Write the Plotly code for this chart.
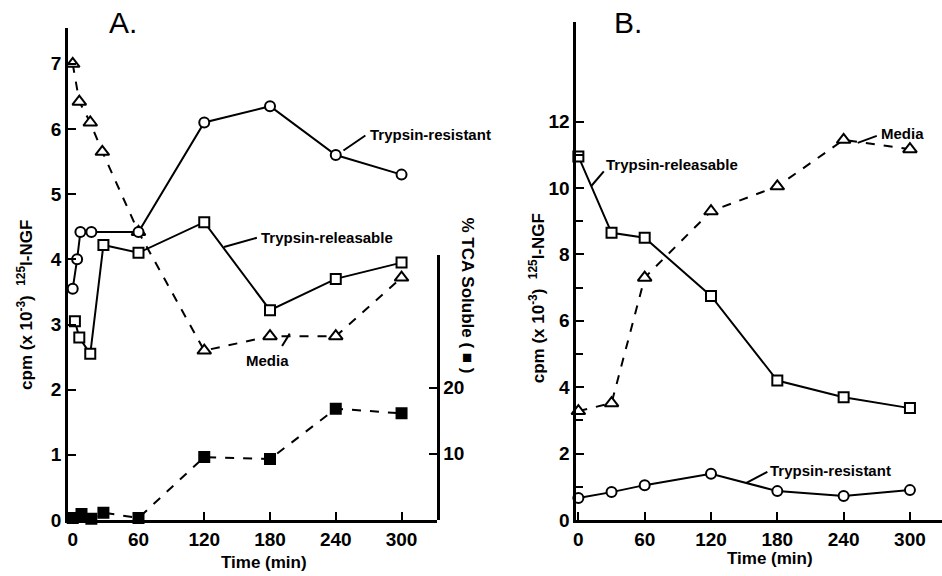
import plotly.graph_objects as go

# ---------------- Panel A data ----------------
a_res_t = [0, 4, 7, 17, 60, 120, 180, 240, 300]
a_res_y = [3.55, 4.0, 4.42, 4.42, 4.42, 6.1, 6.35, 5.6, 5.3]

a_rel_t = [2, 6, 16, 28, 60, 120, 180, 240, 300]
a_rel_y = [3.05, 2.8, 2.55, 4.22, 4.1, 4.57, 3.22, 3.7, 3.95]

a_med_t = [0, 6, 16, 27, 60, 120, 180, 240, 300]
a_med_y = [7.0, 6.42, 6.1, 5.65, 4.42, 2.6, 2.82, 2.82, 3.72]

a_tca_t = [0, 8, 17, 28, 60, 120, 180, 240, 300]
a_tca_y = [0.3, 0.9, 0.2, 1.1, 0.3, 9.5, 9.2, 16.8, 16.1]

# ---------------- Panel B data ----------------
b_t = [0, 30, 60, 120, 180, 240, 300]
b_rel_y = [10.95, 8.65, 8.5, 6.75, 4.2, 3.7, 3.37]
b_res_y = [0.66, 0.84, 1.05, 1.39, 0.87, 0.72, 0.9]
b_med_y = [3.28, 3.52, 7.3, 9.3, 10.05, 11.45, 11.17]

x_ticks = [0, 60, 120, 180, 240, 300]
a_y_ticks = [0, 1, 2, 3, 4, 5, 6, 7]
a_tca_ticks = [10, 20]
b_y_ticks = [0, 2, 4, 6, 8, 10, 12]
b_y_minor = [1, 3, 5, 7, 9, 11]

BLACK = "black"
FONT = "Liberation Sans"


def trace(x, y, xa, ya, symbol, fill, size, dash):
    return go.Scatter(
        x=x, y=y, xaxis=xa, yaxis=ya, mode="lines+markers",
        line=dict(color=BLACK, width=2, dash=dash),
        marker=dict(symbol=symbol, size=size, color=fill,
                    line=dict(color=BLACK, width=2)),
        showlegend=False, hoverinfo="skip", cliponaxis=False,
    )


fig = go.Figure()
# panel A
fig.add_trace(trace(a_tca_t, a_tca_y, "x", "y3", "square", BLACK, 10, "dash"))
fig.add_trace(trace(a_med_t, a_med_y, "x", "y", "triangle-up", "white", 12, "dash"))
fig.add_trace(trace(a_res_t, a_res_y, "x", "y", "circle", "white", 10, "solid"))
fig.add_trace(trace(a_rel_t, a_rel_y, "x", "y", "square", "white", 10, "solid"))
# panel B
fig.add_trace(trace(b_t, b_med_y, "x2", "y2", "triangle-up", "white", 12, "dash"))
fig.add_trace(trace(b_t, b_rel_y, "x2", "y2", "square", "white", 10, "solid"))
fig.add_trace(trace(b_t, b_res_y, "x2", "y2", "circle", "white", 10, "solid"))

W, H = 942, 576
tickfont = dict(family=FONT, size=19, color=BLACK, weight="bold")
axis_common = dict(showgrid=False, zeroline=False, showline=True, linecolor=BLACK,
                   linewidth=2.5, ticks="inside", ticklen=8, tickwidth=2,
                   tickcolor=BLACK, tickfont=tickfont)

fig.update_layout(
    width=W, height=H, margin=dict(l=0, r=0, t=22, b=56),
    paper_bgcolor="white", plot_bgcolor="rgba(0,0,0,0)",
    xaxis=dict(domain=[65 / W, 435 / W], range=[-4.5, 332], anchor="y",
               tickvals=x_ticks, **axis_common),
    yaxis=dict(domain=[0, 492 / 498], range=[0, 7.55], anchor="x",
               tickvals=a_y_ticks, **axis_common),
    yaxis3=dict(domain=[0, 265 / 498], range=[0, 40], anchor="x", side="right",
                tickvals=a_tca_ticks, **axis_common),
    xaxis2=dict(domain=[575 / W, 1.0], range=[-2, 329], anchor="y2",
                tickvals=x_ticks, **axis_common),
    yaxis2=dict(domain=[0, 1], range=[0, 15], anchor="x2",
                tickvals=b_y_ticks,
                minor=dict(tickvals=b_y_minor, ticks="inside", ticklen=7,
                           tickwidth=2, tickcolor=BLACK),
                **axis_common),
)


def px(x):
    return x / W


def py(y):
    return 1 - (y - 22) / 498


ann_font = dict(family=FONT, size=15, color=BLACK, weight="bold")
title_font = dict(family=FONT, size=17, color=BLACK, weight="bold")
annotations = [
    # panel titles
    dict(text="A.", x=px(120), y=py(22), font=dict(family=FONT, size=30, color=BLACK)),
    dict(text="B.", x=px(627), y=py(22), font=dict(family=FONT, size=30, color=BLACK)),
    # axis titles
    dict(text="Time (min)", x=px(262), y=py(562), font=title_font),
    dict(text="Time (min)", x=px(769), y=py(558), font=title_font),
    dict(text="cpm (x 10<sup>-3</sup>)  <sup>125</sup>I-NGF", x=px(22), y=py(305),
         textangle=-90, font=title_font),
    dict(text="cpm (x 10<sup>-3</sup>)  <sup>125</sup>I-NGF", x=px(536), y=py(298),
         textangle=-90, font=title_font),
    dict(text="% TCA Soluble ( ■ )", x=px(466), y=py(295), textangle=90,
         font=title_font),
]
for a in annotations:
    a.update(xref="paper", yref="paper", showarrow=False, xanchor="center", yanchor="middle")

# series labels in data coordinates
labels = [
    ("Trypsin-resistant", "x", "y", 269, 5.92),
    ("Trypsin-releasable", "x", "y", 170, 4.34),
    ("Media", "x", "y", 156, 2.45),
    ("Trypsin-releasable", "x2", "y2", 23.5, 10.72),
    ("Media", "x2", "y2", 272, 11.63),
    ("Trypsin-resistant", "x2", "y2", 172, 1.48),
]
for text, xa, ya, x, y in labels:
    annotations.append(dict(text=text, x=x, y=y, xref=xa, yref=ya, showarrow=False,
                            xanchor="left", yanchor="middle", font=ann_font))
fig.update_layout(annotations=annotations)

# leader lines
leaders = [
    ("x", "y", 247, 5.67, 267, 5.9),
    ("x", "y", 138, 4.19, 168, 4.33),
    ("x", "y", 191, 2.67, 198, 2.86),
    ("x2", "y2", 11.7, 10.06, 23, 10.5),
    ("x2", "y2", 252.7, 11.36, 270, 11.57),
    ("x2", "y2", 151.6, 1.11, 171, 1.45),
]
for xa, ya, x0, y0, x1, y1 in leaders:
    fig.add_shape(type="line", xref=xa, yref=ya, x0=x0, y0=y0, x1=x1, y1=y1,
                  line=dict(color=BLACK, width=2))

fig.write_html("out.html")
